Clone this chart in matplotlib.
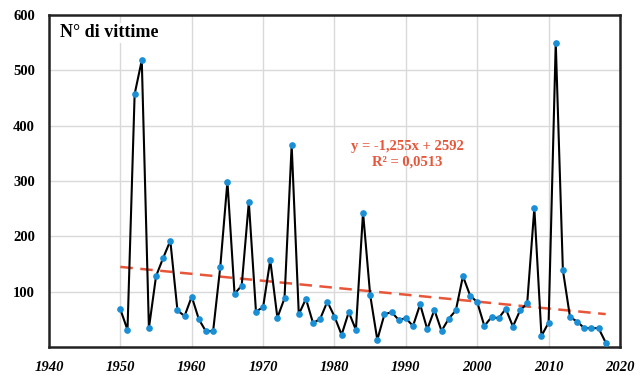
import matplotlib
matplotlib.use("Agg")
import matplotlib.pyplot as plt
import numpy as np

years = list(range(1950, 2019))
victims = [68, 31, 457, 518, 34, 128, 161, 192, 66, 56,
           91, 50, 28, 29, 145, 299, 96, 111, 262, 64,
           72, 157, 53, 88, 365, 59, 87, 43, 51, 82,
           55, 22, 63, 31, 243, 94, 13, 59, 63, 49,
           52, 38, 77, 32, 67, 29, 51, 66, 128, 93,
           81, 38, 54, 52, 69, 37, 66, 79, 251, 20,
           44, 550, 139, 54, 46, 34, 34, 34, 8]
trend_slope = -1.255
trend_intercept = 2592
x_ticks = [1940, 1950, 1960, 1970, 1980, 1990, 2000, 2010, 2020]
y_ticks = [100, 200, 300, 400, 500, 600]

plt.rcParams['font.family'] = ['Liberation Serif', 'DejaVu Serif']

fig = plt.figure(figsize=(6.42, 3.75), dpi=100)
ax = fig.add_axes([0.0763, 0.0747, 0.8894, 0.8853])

ax.set_xlim(1940, 2020)
ax.set_ylim(0, 600)
ax.set_xticks(x_ticks)
ax.set_yticks(y_ticks)
ax.grid(True, color='#d9d9d9', linewidth=1.0)
ax.set_axisbelow(True)
ax.tick_params(axis='x', length=0, pad=10)
ax.tick_params(axis='y', length=0, pad=10)
for lab in ax.get_xticklabels():
    lab.set_fontweight('bold'); lab.set_fontstyle('italic'); lab.set_fontsize(10.5)
for lab in ax.get_yticklabels():
    lab.set_fontweight('bold'); lab.set_fontsize(10.5)
for s in ax.spines.values():
    s.set_linewidth(1.8)
    s.set_color('#222222')

tx = np.array([years[0], years[-1]])
ax.plot(tx, trend_slope * tx + trend_intercept, linestyle=(0, (5, 3)),
        color='#e8563a', linewidth=1.8, zorder=2)
ax.plot(years, victims, color='black', linewidth=1.5, zorder=3)
ax.plot(years, victims, linestyle='none', marker='o', markersize=3.8,
        color='#1a8fd6', zorder=4)

ax.text(1941.6, 568, 'N° di vittime', fontsize=13, fontweight='bold',
        va='center', ha='left',
        bbox=dict(facecolor='white', edgecolor='none', pad=1))
ax.text(1990.2, 348, 'y = -1,255x + 2592\nR² = 0,0513', color='#e8563a',
        fontsize=10.5, fontweight='bold', ha='center', va='center',
        linespacing=1.3)

fig.savefig('out.png', dpi=100)
